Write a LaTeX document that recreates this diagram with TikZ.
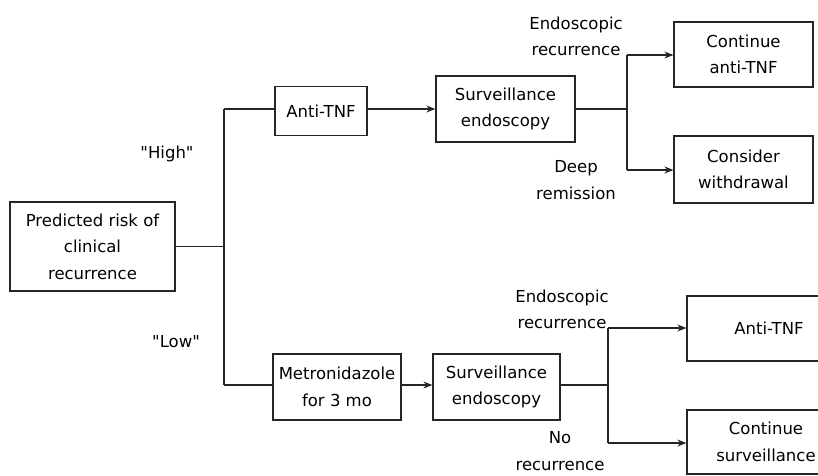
\documentclass[tikz,border=0pt]{standalone}
\usepackage{fontspec}
\setmainfont{DejaVu Sans}[Ligatures=TeXOff]
\usetikzlibrary{arrows.meta}
\begin{document}
\begin{tikzpicture}[x=1pt,y=-1pt,
  box/.style={draw=black!85, line width=1.2pt, align=center, inner sep=0pt, font=\fontsize{16.5}{26.5}\selectfont},
  lbl/.style={align=center, inner sep=0pt, font=\fontsize{16.5}{26.5}\selectfont},
  conn/.style={draw=black!85, line width=1.2pt},
  arr/.style={conn, -{Stealth[length=9pt,width=7pt,inset=3pt]}}]
\useasboundingbox (0,0) rectangle (818,475);
\clip (0,0) rectangle (818,475);
% boxes
\node[box, minimum width=165pt, minimum height=89pt] (pred) at (92.5,246.5) {Predicted risk of\\clinical\\recurrence};
\node[box, minimum width=92pt, minimum height=49pt] (anti1) at (321,111) {Anti-TNF};
\node[box, minimum width=139pt, minimum height=66pt] (surv1) at (505.5,109) {Surveillance\\endoscopy};
\node[box, minimum width=139pt, minimum height=65pt] (cont1) at (743.5,54.5) {Continue\\anti-TNF};
\node[box, minimum width=139pt, minimum height=67pt] (cons1) at (743.5,169.5) {Consider\\withdrawal};
\node[box, minimum width=128pt, minimum height=66pt] (metro) at (337,387) {Metronidazole\\for 3 mo};
\node[box, minimum width=127pt, minimum height=66pt] (surv2) at (496.5,387) {Surveillance\\endoscopy};
\node[box, minimum width=164pt, minimum height=65pt] (anti2) at (769,328.5) {Anti-TNF};
\node[box, minimum width=158pt, minimum height=64pt] (cs) at (766,442) {Continue\\surveillance};
% labels
\node[lbl] (high) at (167,154) {"High"};
\node[lbl] (low) at (176,342) {"Low"};
\node[lbl] (er1) at (576,36.5) {Endoscopic\\recurrence};
\node[lbl] (dr1) at (576,180) {Deep\\remission};
\node[lbl] (er2) at (562,309.5) {Endoscopic\\recurrence};
\node[lbl] (nr2) at (560,451) {No\\recurrence};
% connectors
\coordinate (t0) at (224,246.5);
\coordinate (ttop) at (224,109);
\coordinate (tbot) at (224,385);
\draw[conn] (pred.east) -- (t0);
\draw[conn] (ttop) -- (tbot);
\draw[conn] (ttop) -- (ttop -| anti1.west);
\draw[arr] (anti1.east |- ttop) -- (surv1.west |- ttop);
\coordinate (s1) at (627,109);
\coordinate (s1t) at (627,55);
\coordinate (s1b) at (627,170);
\draw[conn] (surv1.east |- s1) -- (s1);
\draw[conn] (s1t) -- (s1b);
\draw[arr] (s1t) -- (s1t -| cont1.west);
\draw[arr] (s1b) -- (s1b -| cons1.west);
\draw[conn] (tbot) -- (tbot -| metro.west);
\draw[arr] (metro.east |- tbot) -- (surv2.west |- tbot);
\coordinate (s2) at (608,385);
\coordinate (s2t) at (608,328);
\coordinate (s2b) at (608,443);
\draw[conn] (surv2.east |- s2) -- (s2);
\draw[conn] (s2t) -- (s2b);
\draw[arr] (s2t) -- (s2t -| anti2.west);
\draw[arr] (s2b) -- (s2b -| cs.west);
\end{tikzpicture}
\end{document}
